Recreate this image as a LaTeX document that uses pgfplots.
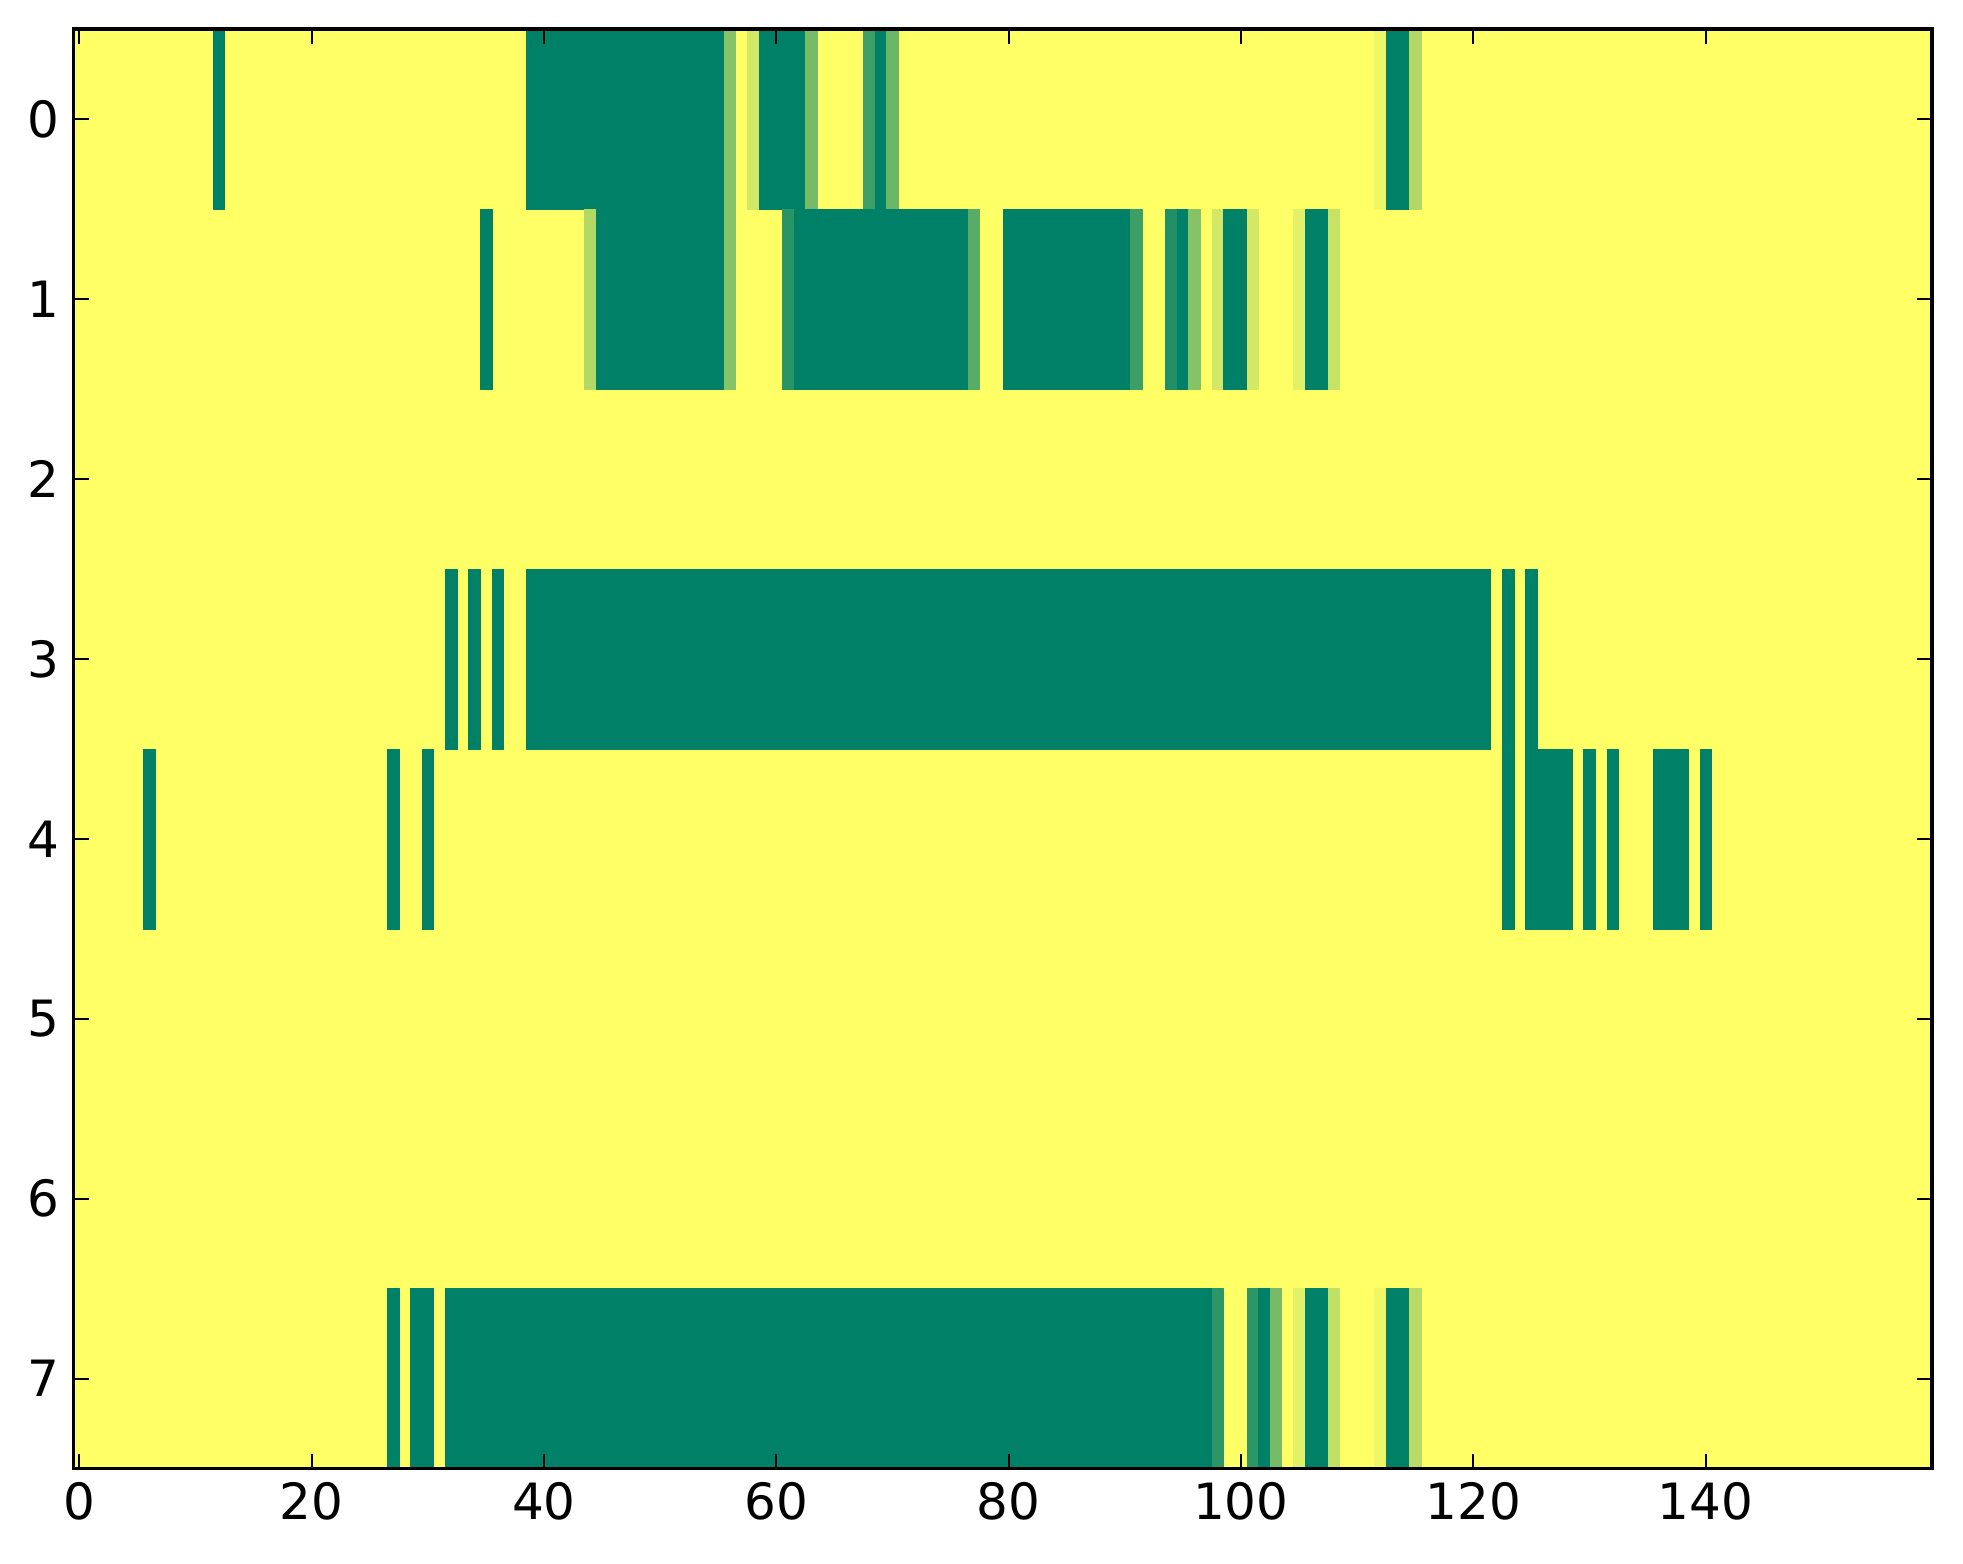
\documentclass[border=0pt]{standalone}
\usepackage{fontspec}
\setmainfont{DejaVu Sans}
\usepackage{pgfplots}
\pgfplotsset{compat=1.18}
\begin{document}
\begin{tikzpicture}
\begin{axis}[
  scale only axis,
  width=464.6pt, height=359.9pt,
  xmin=-0.5, xmax=159.5, ymin=-0.5, ymax=7.5,
  enlargelimits=false,
  y dir=reverse,
  axis on top,
  xtick={0,20,40,60,80,100,120,140},
  ytick={0,1,2,3,4,5,6,7},
  tick align=inside,
  major tick length=3.75pt,
  every tick/.style={black, line width=0.5pt},
  axis line style={line width=0.85pt},
  tick label style={font=\fontsize{12.5}{15}\selectfont},
  /pgf/number format/assume math mode=true,
  colormap={summerr}{rgb=(1,1,0.4) rgb=(0,0.5,0.4)},
  point meta min=0, point meta max=1,
]
\addplot[patch, patch type=rectangle, shader=faceted, faceted color=mapped color, line width=0.1pt, point meta=explicit] coordinates {
(-0.5,-0.5)[0] (159.5,-0.5)[0] (159.5,7.5)[0] (-0.5,7.5)[0]
% row 0
(11.5,-0.5)[1] (12.5,-0.5)[1] (12.5,0.5)[1] (11.5,0.5)[1]
(38.5,-0.5)[1] (55.5,-0.5)[1] (55.5,0.5)[1] (38.5,0.5)[1]
(55.5,-0.5)[0.47] (56.5,-0.5)[0.47] (56.5,0.5)[0.47] (55.5,0.5)[0.47]
(57.5,-0.5)[0.17] (58.5,-0.5)[0.17] (58.5,0.5)[0.17] (57.5,0.5)[0.17]
(58.5,-0.5)[1] (62.5,-0.5)[1] (62.5,0.5)[1] (58.5,0.5)[1]
(62.5,-0.5)[0.53] (63.5,-0.5)[0.53] (63.5,0.5)[0.53] (62.5,0.5)[0.53]
(67.5,-0.5)[0.75] (68.5,-0.5)[0.75] (68.5,0.5)[0.75] (67.5,0.5)[0.75]
(68.5,-0.5)[1] (69.5,-0.5)[1] (69.5,0.5)[1] (68.5,0.5)[1]
(69.5,-0.5)[0.58] (70.5,-0.5)[0.58] (70.5,0.5)[0.58] (69.5,0.5)[0.58]
(111.5,-0.5)[0.06] (112.5,-0.5)[0.06] (112.5,0.5)[0.06] (111.5,0.5)[0.06]
(112.5,-0.5)[1] (114.5,-0.5)[1] (114.5,0.5)[1] (112.5,0.5)[1]
(114.5,-0.5)[0.3] (115.5,-0.5)[0.3] (115.5,0.5)[0.3] (114.5,0.5)[0.3]
% row 1
(34.5,0.5)[1] (35.5,0.5)[1] (35.5,1.5)[1] (34.5,1.5)[1]
(43.5,0.5)[0.3] (44.5,0.5)[0.3] (44.5,1.5)[0.3] (43.5,1.5)[0.3]
(44.5,0.5)[1] (55.5,0.5)[1] (55.5,1.5)[1] (44.5,1.5)[1]
(55.5,0.5)[0.47] (56.5,0.5)[0.47] (56.5,1.5)[0.47] (55.5,1.5)[0.47]
(60.5,0.5)[0.83] (61.5,0.5)[0.83] (61.5,1.5)[0.83] (60.5,1.5)[0.83]
(61.5,0.5)[1] (76.5,0.5)[1] (76.5,1.5)[1] (61.5,1.5)[1]
(76.5,0.5)[0.65] (77.5,0.5)[0.65] (77.5,1.5)[0.65] (76.5,1.5)[0.65]
(79.5,0.5)[1] (90.5,0.5)[1] (90.5,1.5)[1] (79.5,1.5)[1]
(90.5,0.5)[0.75] (91.5,0.5)[0.75] (91.5,1.5)[0.75] (90.5,1.5)[0.75]
(93.5,0.5)[0.87] (94.5,0.5)[0.87] (94.5,1.5)[0.87] (93.5,1.5)[0.87]
(94.5,0.5)[1] (95.5,0.5)[1] (95.5,1.5)[1] (94.5,1.5)[1]
(95.5,0.5)[0.47] (96.5,0.5)[0.47] (96.5,1.5)[0.47] (95.5,1.5)[0.47]
(97.5,0.5)[0.17] (98.5,0.5)[0.17] (98.5,1.5)[0.17] (97.5,1.5)[0.17]
(98.5,0.5)[1] (100.5,0.5)[1] (100.5,1.5)[1] (98.5,1.5)[1]
(100.5,0.5)[0.17] (101.5,0.5)[0.17] (101.5,1.5)[0.17] (100.5,1.5)[0.17]
(104.5,0.5)[0.11] (105.5,0.5)[0.11] (105.5,1.5)[0.11] (104.5,1.5)[0.11]
(105.5,0.5)[1] (107.5,0.5)[1] (107.5,1.5)[1] (105.5,1.5)[1]
(107.5,0.5)[0.22] (108.5,0.5)[0.22] (108.5,1.5)[0.22] (107.5,1.5)[0.22]
% row 3
(31.5,2.5)[1] (32.5,2.5)[1] (32.5,3.5)[1] (31.5,3.5)[1]
(33.5,2.5)[1] (34.5,2.5)[1] (34.5,3.5)[1] (33.5,3.5)[1]
(35.5,2.5)[1] (36.5,2.5)[1] (36.5,3.5)[1] (35.5,3.5)[1]
(38.5,2.5)[1] (121.5,2.5)[1] (121.5,3.5)[1] (38.5,3.5)[1]
(122.5,2.5)[1] (123.5,2.5)[1] (123.5,3.5)[1] (122.5,3.5)[1]
(124.5,2.5)[1] (125.5,2.5)[1] (125.5,3.5)[1] (124.5,3.5)[1]
% row 4
(5.5,3.5)[1] (6.5,3.5)[1] (6.5,4.5)[1] (5.5,4.5)[1]
(26.5,3.5)[1] (27.5,3.5)[1] (27.5,4.5)[1] (26.5,4.5)[1]
(29.5,3.5)[1] (30.5,3.5)[1] (30.5,4.5)[1] (29.5,4.5)[1]
(122.5,3.5)[1] (123.5,3.5)[1] (123.5,4.5)[1] (122.5,4.5)[1]
(124.5,3.5)[1] (128.5,3.5)[1] (128.5,4.5)[1] (124.5,4.5)[1]
(129.5,3.5)[1] (130.5,3.5)[1] (130.5,4.5)[1] (129.5,4.5)[1]
(131.5,3.5)[1] (132.5,3.5)[1] (132.5,4.5)[1] (131.5,4.5)[1]
(135.5,3.5)[1] (138.5,3.5)[1] (138.5,4.5)[1] (135.5,4.5)[1]
(139.5,3.5)[1] (140.5,3.5)[1] (140.5,4.5)[1] (139.5,4.5)[1]
% row 7
(26.5,6.5)[1] (27.5,6.5)[1] (27.5,7.5)[1] (26.5,7.5)[1]
(28.5,6.5)[1] (30.5,6.5)[1] (30.5,7.5)[1] (28.5,7.5)[1]
(31.5,6.5)[1] (97.5,6.5)[1] (97.5,7.5)[1] (31.5,7.5)[1]
(97.5,6.5)[0.82] (98.5,6.5)[0.82] (98.5,7.5)[0.82] (97.5,7.5)[0.82]
(100.5,6.5)[0.82] (101.5,6.5)[0.82] (101.5,7.5)[0.82] (100.5,7.5)[0.82]
(101.5,6.5)[1] (102.5,6.5)[1] (102.5,7.5)[1] (101.5,7.5)[1]
(102.5,6.5)[0.53] (103.5,6.5)[0.53] (103.5,7.5)[0.53] (102.5,7.5)[0.53]
(104.5,6.5)[0.11] (105.5,6.5)[0.11] (105.5,7.5)[0.11] (104.5,7.5)[0.11]
(105.5,6.5)[1] (107.5,6.5)[1] (107.5,7.5)[1] (105.5,7.5)[1]
(107.5,6.5)[0.24] (108.5,6.5)[0.24] (108.5,7.5)[0.24] (107.5,7.5)[0.24]
(111.5,6.5)[0.06] (112.5,6.5)[0.06] (112.5,7.5)[0.06] (111.5,7.5)[0.06]
(112.5,6.5)[1] (114.5,6.5)[1] (114.5,7.5)[1] (112.5,7.5)[1]
(114.5,6.5)[0.28] (115.5,6.5)[0.28] (115.5,7.5)[0.28] (114.5,7.5)[0.28]
};
\end{axis}
\path (current axis.south west) ++(-18.4pt,-23.8pt) coordinate (bbA);
\path (current axis.north east) ++(7.75pt,7.25pt) coordinate (bbB);
\path (bbA) rectangle (bbB);
\end{tikzpicture}
\end{document}
